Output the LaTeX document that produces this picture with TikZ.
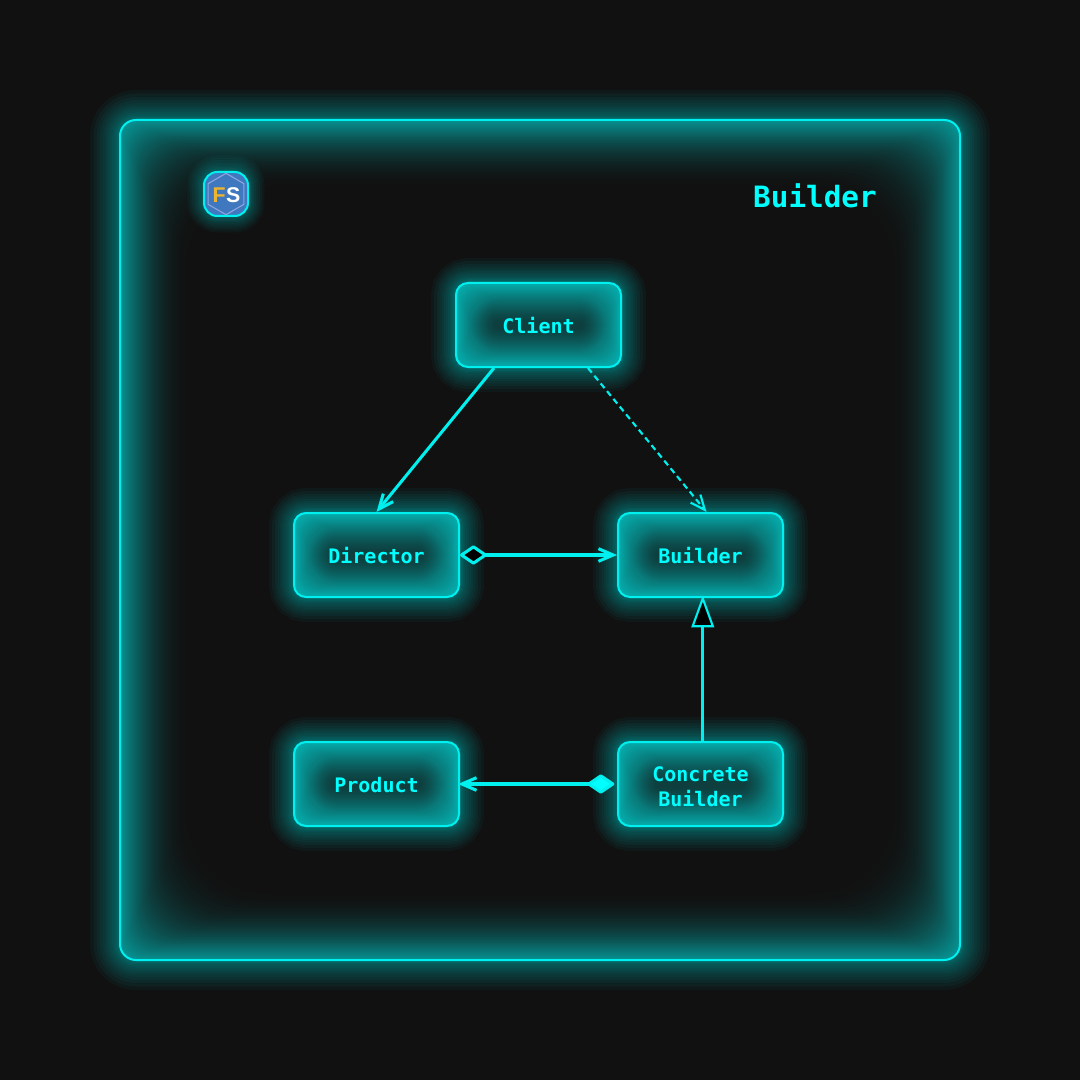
\documentclass[tikz,border=0pt]{standalone}
\usepackage{fontspec}
\setmainfont{Liberation Sans}
\setmonofont{DejaVu Sans Mono}
\usetikzlibrary{arrows.meta, shapes.geometric}

\definecolor{bgdark}{HTML}{111111}
\definecolor{neon}{HTML}{00F0F0}
\definecolor{neontext}{HTML}{00FFFF}
\definecolor{logoblue}{HTML}{3F78BE}
\definecolor{logoline}{HTML}{8FA6DC}
\definecolor{logogold}{HTML}{EDB42F}

\tikzset{
	halo/.style={preaction={draw=neon, draw opacity=0.04, line width=0.146*#1*#1*1pt}},
	framehalo/.style={preaction={draw=neon, draw opacity=0.04, line width=0.176*#1*#1*1pt}},
	neonbase/.style={rectangle, draw=neon, line width=1.5pt, inner sep=0pt},
	classbox/.style={neonbase, fill=neon!70!bgdark, rounded corners=9pt, minimum width=123.75pt, minimum height=63pt,
		text=neontext, align=center, font=\fontsize{15}{18.75}\selectfont\ttfamily\bfseries,
		execute at begin node={\rule[-3pt]{0pt}{18pt}},
		halo/.list={1,2,...,16},
		path picture={
			\foreach \inset in {1,2,...,40} {
				\pgfmathsetmacro{\tint}{20+50*(1-\inset/40)^1.4}
				\pgfmathsetmacro{\rad}{min(9+0.75*\inset,31.5-0.75*\inset)}
				\fill[neon!\tint!bgdark, rounded corners=\rad pt]
					([shift={(\inset*0.75pt,\inset*0.75pt)}]path picture bounding box.south west) rectangle
					([shift={(-\inset*0.75pt,-\inset*0.75pt)}]path picture bounding box.north east);
			}
		}},
	outerframe/.style={neonbase, fill=neon!58!bgdark, rounded corners=12pt, minimum width=630pt, minimum height=630pt,
		framehalo/.list={1,2,...,16},
		path picture={
			\foreach \inset in {1,2,...,70} {
				\pgfmathsetmacro{\tint}{58*(1-\inset/70)^2}
				\pgfmathsetmacro{\rad}{12+0.75*\inset}
				\fill[neon!\tint!bgdark, rounded corners=\rad pt]
					([shift={(\inset*0.75pt,\inset*0.75pt)}]path picture bounding box.south west) rectangle
					([shift={(-\inset*0.75pt,-\inset*0.75pt)}]path picture bounding box.north east);
			}
		}},
	logobox/.style={rectangle, draw=neon, line width=1.5pt, fill=logoblue, rounded corners=10pt,
		minimum size=33pt, inner sep=0pt, halo/.list={1,2,...,13}},
	assoc/.style={draw=neon, line width=2.3pt},
	depend/.style={draw=neon, line width=1.6pt, dash pattern=on 4.5pt off 3pt},
	openhead/.tip={Straight Barb[length=11pt, width=9.5pt]},
	hollowdiamond/.tip={Diamond[length=22pt, width=15pt, round, fill=black]},
	soliddiamond/.tip={Diamond[length=22pt, width=15pt, round, fill=neontext]},
	hollowtriangle/.tip={Triangle[length=24pt, width=17pt, fill=black, line width=1.6pt]}
}

\begin{document}
\begin{tikzpicture}[x=0.75pt, y=-0.75pt]
	% -- Canvas --
	\fill[bgdark] (0,0) rectangle (1080,1080);
	\useasboundingbox (0,0) rectangle (1080,1080);

	% -- Outer Frame --
	\node[outerframe] (frame) at (540,540) {};

	% -- Logo --
	\node[logobox] (logo) at (226,194) {};
	\node[regular polygon, regular polygon sides=6, shape border rotate=30, draw=logoline, line width=0.8pt,
		minimum size=31pt, inner sep=0pt] (hexa) at (logo.center) {};
	\node[font=\fontsize{16}{16}\selectfont\bfseries, inner sep=0pt] (initials) at (226.5,195)
		{\textcolor{logogold}{F}\kern0.5pt\textcolor{white}{S}};

	% -- Title --
	\node[text=neontext, font=\fontsize{22}{22}\selectfont\ttfamily\bfseries, inner sep=0pt] (title) at (815,196) {Builder};

	% -- Classes --
	\node[classbox] (client) at (538.5,325) {Client};
	\node[classbox] (director) at (376.5,555) {Director};
	\node[classbox] (builder) at (700.5,555) {Builder};
	\node[classbox] (product) at (376.5,784) {Product};
	\node[classbox] (concrete) at (700.5,784) {\rule{0pt}{18pt}Concrete\\Builder};

	% -- Relations --
	\draw[assoc, -{openhead}] (client.-136) -- (director.north);
	\draw[depend, -{openhead}] (client.-41) -- (builder.82);
	\draw[assoc, {hollowdiamond}-{openhead}] (director.east) -- (builder.west);
	\draw[assoc, line width=2.6pt, -{hollowtriangle}, shorten >=-2pt] (concrete.87) -- (builder.-87);
	\draw[assoc, {soliddiamond}-{openhead}, shorten <=2pt, shorten >=-1.5pt] (concrete.west) -- (product.east);
\end{tikzpicture}
\end{document}
